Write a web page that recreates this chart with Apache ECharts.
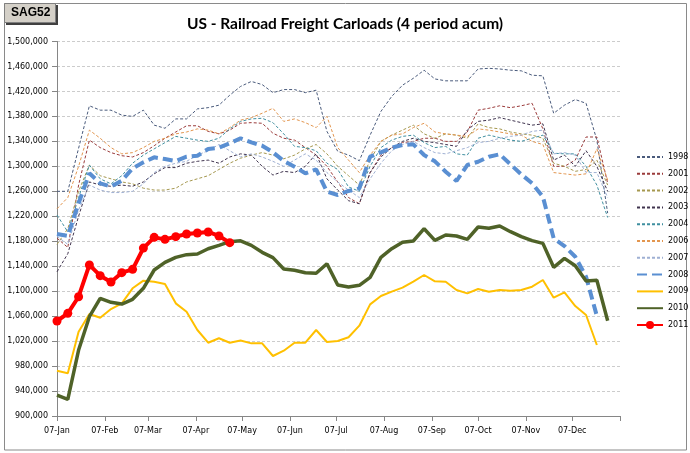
<!DOCTYPE html>
<html>
<head>
<meta charset="utf-8">
<title>US - Railroad Freight Carloads</title>
<script src="https://cdn.jsdelivr.net/npm/echarts@6/dist/echarts.min.js"></script>
<style>
    html, body { margin: 0; padding: 0; background: #fff; }
    #chart { width: 690px; height: 453px; }
</style>
</head>
<body>
<div id="chart"></div>
<script>
// x axis: days counted from 07-Jan, ticks on the 7th of each month
const tickDays = [0, 31, 59, 90, 120, 151, 181, 212, 243, 273, 304, 334, 365];
const tickLabels = ['07-Jan', '07-Feb', '07-Mar', '07-Apr', '07-May', '07-Jun',
    '07-Jul', '07-Aug', '07-Sep', '07-Oct', '07-Nov', '07-Dec', ''];

// weekly readings (4 period accumulated carloads)
const y1998 = [1260000, 1260000, 1329000, 1397000, 1390000, 1390000, 1382000, 1380000, 1390000, 1366000,
    1361000, 1376000, 1376000, 1392000, 1394000, 1398000, 1414000, 1428000, 1436000, 1431000,
    1418000, 1423000, 1423000, 1418000, 1422000, 1356000, 1324000, 1318000, 1309000, 1350000,
    1388000, 1412000, 1430000, 1441000, 1454000, 1440000, 1437000, 1437000, 1437000, 1456000,
    1457000, 1456000, 1454000, 1453000, 1446000, 1445000, 1385000, 1398000, 1407000, 1401000,
    1342000, 1225000];
const y2001 = [1185000, 1170000, 1270000, 1342000, 1330000, 1322000, 1317000, 1315000, 1322000, 1333000,
    1345000, 1355000, 1365000, 1365000, 1356000, 1352000, 1358000, 1369000, 1370000, 1369000,
    1353000, 1345000, 1342000, 1330000, 1318000, 1300000, 1275000, 1250000, 1240000, 1290000,
    1318000, 1330000, 1338000, 1340000, 1345000, 1345000, 1340000, 1340000, 1355000, 1390000,
    1393000, 1397000, 1394000, 1397000, 1401000, 1360000, 1300000, 1300000, 1310000, 1347000,
    1347000, 1273000];
const y2002 = [1175000, 1200000, 1260000, 1302000, 1285000, 1280000, 1275000, 1272000, 1265000, 1262000,
    1262000, 1265000, 1275000, 1280000, 1285000, 1295000, 1305000, 1313000, 1318000, 1322000,
    1318000, 1312000, 1318000, 1328000, 1335000, 1320000, 1300000, 1285000, 1270000, 1310000,
    1340000, 1350000, 1358000, 1366000, 1352000, 1345000, 1352000, 1350000, 1345000, 1368000,
    1362000, 1360000, 1355000, 1352000, 1350000, 1345000, 1305000, 1300000, 1292000, 1295000,
    1310000, 1270000];
const y2003 = [1131000, 1160000, 1220000, 1275000, 1270000, 1268000, 1270000, 1268000, 1275000, 1288000,
    1298000, 1298000, 1305000, 1308000, 1310000, 1305000, 1315000, 1320000, 1318000, 1300000,
    1286000, 1292000, 1290000, 1300000, 1320000, 1280000, 1262000, 1245000, 1240000, 1290000,
    1315000, 1330000, 1340000, 1345000, 1340000, 1338000, 1335000, 1332000, 1358000, 1372000,
    1374000, 1378000, 1374000, 1370000, 1366000, 1368000, 1310000, 1318000, 1300000, 1325000,
    1300000, 1260000];
const y2004 = [1222000, 1195000, 1250000, 1302000, 1280000, 1272000, 1285000, 1305000, 1318000, 1328000,
    1338000, 1348000, 1345000, 1342000, 1340000, 1345000, 1360000, 1372000, 1376000, 1377000,
    1370000, 1352000, 1332000, 1330000, 1325000, 1305000, 1295000, 1267000, 1260000, 1300000,
    1330000, 1342000, 1348000, 1350000, 1338000, 1330000, 1332000, 1320000, 1318000, 1345000,
    1350000, 1346000, 1342000, 1340000, 1345000, 1350000, 1321000, 1320000, 1320000, 1300000,
    1270000, 1218000];
const y2006 = [1232000, 1250000, 1300000, 1358000, 1345000, 1330000, 1320000, 1322000, 1330000, 1340000,
    1345000, 1352000, 1355000, 1360000, 1358000, 1352000, 1362000, 1374000, 1378000, 1385000,
    1393000, 1372000, 1376000, 1370000, 1362000, 1380000, 1330000, 1310000, 1290000, 1318000,
    1340000, 1350000, 1352000, 1362000, 1369000, 1355000, 1352000, 1350000, 1348000, 1360000,
    1358000, 1355000, 1352000, 1350000, 1340000, 1335000, 1290000, 1288000, 1286000, 1288000,
    1328000, 1278000];
const y2007 = [1188000, 1175000, 1230000, 1270000, 1262000, 1258000, 1258000, 1260000, 1272000, 1290000,
    1300000, 1305000, 1308000, 1318000, 1325000, 1335000, 1325000, 1315000, 1320000, 1315000,
    1308000, 1300000, 1310000, 1320000, 1310000, 1290000, 1275000, 1262000, 1250000, 1280000,
    1305000, 1325000, 1335000, 1340000, 1330000, 1322000, 1320000, 1325000, 1330000, 1338000,
    1340000, 1345000, 1348000, 1350000, 1356000, 1358000, 1320000, 1322000, 1318000, 1290000,
    1290000, 1250000];
const y2008 = [1191600, 1188400, 1240700, 1288800, 1272800, 1267400, 1277000, 1296800, 1306400, 1314400,
    1311700, 1308500, 1315400, 1317000, 1327700, 1329800, 1336900, 1344900, 1338500, 1333100,
    1322500, 1308500, 1299400, 1288800, 1295200, 1259400, 1254100, 1260500, 1264800, 1315400,
    1322500, 1329800, 1334200, 1335300, 1318100, 1308000, 1291400, 1276500, 1302100, 1307400,
    1315400, 1319300, 1303200, 1287200, 1272800, 1251400, 1184600, 1172300, 1155200, 1123100,
    1060200];
const y2009 = [972600, 968400, 1035100, 1063400, 1057500, 1071400, 1080500, 1104600, 1116800, 1115200,
    1111500, 1080500, 1067100, 1037800, 1017400, 1024500, 1017400, 1021000, 1016400, 1016400,
    996100, 1004600, 1017400, 1017400, 1037800, 1018600, 1020200, 1026100, 1044700, 1078900,
    1092200, 1099200, 1105600, 1115200, 1125900, 1115700, 1115200, 1101900, 1096500, 1103400,
    1099200, 1101900, 1100800, 1101900, 1107200, 1117900, 1089500, 1098100, 1076200, 1061800,
    1013800];
const y2010 = [933600, 926700, 1005700, 1059100, 1088500, 1082100, 1079400, 1087000, 1104600, 1133900,
    1146200, 1154200, 1158500, 1159500, 1168000, 1173400, 1179300, 1180600, 1173400, 1162200,
    1153700, 1135500, 1133400, 1129600, 1128600, 1144000, 1109900, 1106700, 1109400, 1122200,
    1154200, 1168000, 1178300, 1180400, 1200100, 1181400, 1190000, 1188400, 1183100, 1202800,
    1200700, 1204400, 1195300, 1187300, 1180900, 1176600, 1138200, 1152600, 1140800, 1116300,
    1117400, 1052700];
const y2011 = [1052200, 1064500, 1091100, 1142000, 1124800, 1114700, 1129600, 1135000, 1169000, 1186200,
    1183000, 1187300, 1191600, 1193200, 1194800, 1188400, 1177700];

const yearNames = ['1998', '2001', '2002', '2003', '2004', '2006', '2007', '2008', '2009', '2010', '2011'];

const pair = vals => vals.map((v, i) => [i * 7, v]);

const thin = (name, vals, color) => ({
    name: name,
    type: 'line',
    data: pair(vals),
    symbol: 'none',
    lineStyle: { width: 1, type: [3, 2], color: color },
    itemStyle: { color: color }
});

const chart = echarts.init(document.getElementById('chart'));
chart.setOption({
    animation: false,
    backgroundColor: '#fff',
    title: {
        text: 'US - Railroad Freight Carloads (4 period acum)',
        left: 'center',
        top: 11,
        textStyle: { fontFamily: 'Lato', fontWeight: 'bold', fontSize: 15.5, color: '#000' }
    },
    graphic: [
        {
            type: 'rect', z: 0,
            shape: { x: 4.5, y: 3.5, width: 682, height: 446.5 },
            style: { fill: 'none', stroke: '#8a8a8a', lineWidth: 1 }
        },
        {
            type: 'rect', z: 10,
            shape: { x: 6, y: 5, width: 52, height: 20 },
            style: { fill: '#404040' }
        },
        {
            type: 'rect', z: 11,
            shape: { x: 4.5, y: 3.5, width: 51, height: 19 },
            style: { fill: '#d4d0c8', stroke: '#808080', lineWidth: 1 }
        },
        {
            type: 'text', z: 12,
            left: 11, top: 7,
            style: { text: 'SAG52', font: 'bold 12px "Liberation Sans"', fill: '#000' }
        }
    ],
    grid: { left: 57, right: 70, top: 41.5, bottom: 37 },
    legend: {
        orient: 'vertical',
        left: 631,
        top: 148,
        itemWidth: 26,
        itemHeight: 10,
        itemGap: 8.8,
        // only 2011 has a marker in its key
        data: yearNames.map(n => n === '2011' ? n : { name: n, itemStyle: { opacity: 0 } }),
        textStyle: { fontFamily: 'DejaVu Sans', fontSize: 8, color: '#000' }
    },
    xAxis: {
        type: 'value',
        min: 0,
        max: 365,
        axisLine: { lineStyle: { color: '#868686' } },
        axisTick: { customValues: tickDays, length: 5, lineStyle: { color: '#868686' } },
        axisLabel: {
            customValues: tickDays.slice(0, -1),
            margin: 11,
            fontFamily: 'DejaVu Sans',
            fontSize: 8,
            color: '#000',
            formatter: v => tickLabels[tickDays.indexOf(v)]
        },
        splitLine: { show: false }
    },
    yAxis: {
        type: 'value',
        min: 900000,
        max: 1500000,
        interval: 40000,
        axisLine: { show: true, lineStyle: { color: '#868686' } },
        axisTick: { show: true, length: 5, lineStyle: { color: '#868686' } },
        axisLabel: {
            margin: 9,
            fontFamily: 'DejaVu Sans',
            fontSize: 8,
            color: '#000',
            formatter: v => v.toLocaleString('en-US')
        },
        splitLine: { lineStyle: { color: '#cccccc', type: [3, 2] } }
    },
    series: [
        thin('1998', y1998, '#4a5b7c'),
        thin('2001', y2001, '#9b3b3b'),
        thin('2002', y2002, '#a5984f'),
        thin('2003', y2003, '#40344f'),
        thin('2004', y2004, '#3f8fa0'),
        thin('2006', y2006, '#e3964f'),
        thin('2007', y2007, '#9fb0d3'),
        {
            name: '2008', type: 'line', data: pair(y2008), symbol: 'none',
            lineStyle: { width: 4, type: [10, 5], color: '#5a8fd2' },
            itemStyle: { color: '#5a8fd2' }
        },
        {
            name: '2009', type: 'line', data: pair(y2009), symbol: 'none',
            lineStyle: { width: 2, color: '#ffc000' },
            itemStyle: { color: '#ffc000' }
        },
        {
            name: '2010', type: 'line', data: pair(y2010), symbol: 'none',
            lineStyle: { width: 3.5, color: '#4f6228' },
            itemStyle: { color: '#4f6228' }
        },
        {
            name: '2011', type: 'line', data: pair(y2011),
            symbol: 'circle', symbolSize: 9,
            lineStyle: { width: 4, color: '#ff0000' },
            itemStyle: { color: '#ff0000' }
        }
    ]
});
</script>
</body>
</html>
